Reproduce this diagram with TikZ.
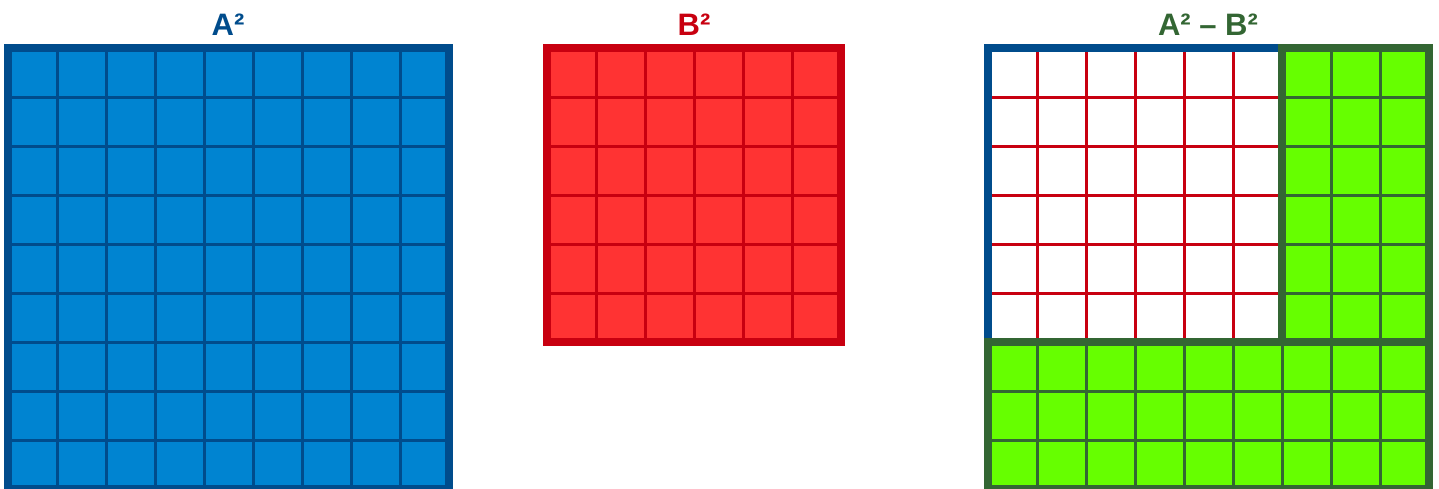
\documentclass[tikz,border=0pt]{standalone}
\usepackage{fontspec}
\setmainfont{Liberation Sans}
\usetikzlibrary{positioning}

\definecolor{asqfill}{RGB}{0,132,209}
\definecolor{asqline}{RGB}{0,76,140}
\definecolor{bsqfill}{RGB}{255,51,51}
\definecolor{bsqline}{RGB}{200,0,16}
\definecolor{dsqfill}{RGB}{102,255,0}
\definecolor{dsqline}{RGB}{51,102,51}

\begin{document}
\begin{tikzpicture}[
    x=1pt, y=-1pt,
    title/.style    = {font=\fontsize{31}{31}\selectfont\bfseries,
                       inner sep=0pt, anchor=base},
    rim/.style      = {line width=8pt, line join=miter, line cap=rect},
    cell/.style     = {line width=3pt}
]
\clip (0,0) rectangle (1439,488);

%% -- Square A^2 (9 x 9) -------------------------------------
\fill[asqfill] (8,48) rectangle (449,489);
\foreach \k in {1,...,8} {
  \draw[cell, asqline] (8+49*\k,48) -- (8+49*\k,489);
  \draw[cell, asqline] (8,48+49*\k) -- (449,48+49*\k);
}
\draw[rim, asqline] (8,48) rectangle (449,489);
\node[title, text=asqline] (atitle) at (228,35) {A²};

%% -- Square B^2 (6 x 6) -------------------------------------
\fill[bsqfill] (547,48) rectangle (841,342);
\foreach \k in {1,...,5} {
  \draw[cell, bsqline] (547+49*\k,48) -- (547+49*\k,342);
  \draw[cell, bsqline] (547,48+49*\k) -- (841,48+49*\k);
}
\draw[rim, bsqline] (547,48) rectangle (841,342);
\node[title, text=bsqline] (btitle) at (694,35) {B²};

%% -- Difference A^2 - B^2 -----------------------------------
% removed part: white with red cell lines
\fill[white] (988,48) rectangle (1282,342);
\foreach \k in {1,...,5} {
  \draw[cell, bsqline] (988+49*\k,48) -- (988+49*\k,342);
  \draw[cell, bsqline] (988,48+49*\k) -- (1282,48+49*\k);
}
% what is left: green L-shape
\fill[dsqfill] (1282,48) rectangle (1429,342);
\fill[dsqfill] (988,342) rectangle (1429,489);
\foreach \k in {1,2} {
  \draw[cell, dsqline] (1282+49*\k,48) -- (1282+49*\k,342);
  \draw[cell, dsqline] (988,342+49*\k) -- (1429,342+49*\k);
}
\foreach \k in {1,...,5}
  \draw[cell, dsqline] (1282,48+49*\k) -- (1429,48+49*\k);
\foreach \k in {1,...,8}
  \draw[cell, dsqline] (988+49*\k,342) -- (988+49*\k,489);

\draw[rim, asqline] (1282,48) -- (988,48) -- (988,342);
\draw[rim, dsqline] (1282,48) -- (1429,48) -- (1429,489) -- (988,489) -- (988,342);
\draw[rim, dsqline] (1282,48) -- (1282,342);
\draw[rim, dsqline] (988,342) -- (1429,342);
\node[title, text=dsqline] (dtitle) at (1208,35) {A² – B²};

\end{tikzpicture}
\end{document}
